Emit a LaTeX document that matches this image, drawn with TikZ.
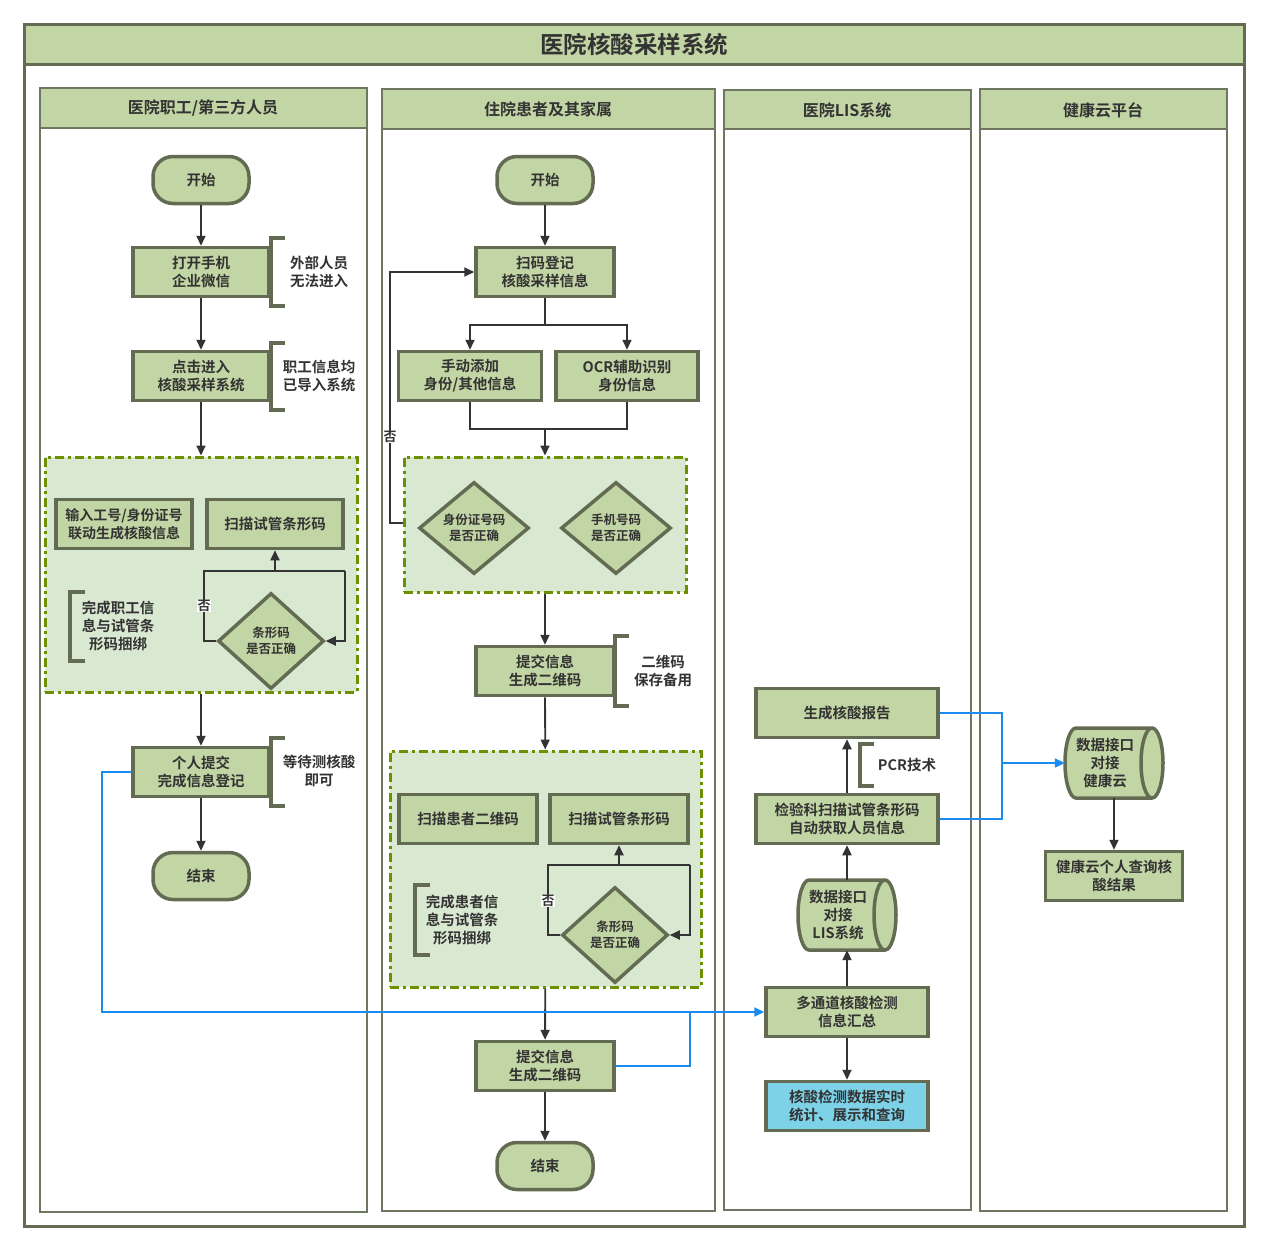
\documentclass[tikz,border=0pt]{standalone}
\usepackage{fontspec}
\setmainfont{Noto Sans CJK SC}[BoldFont={* Bold}]
\usetikzlibrary{shapes.geometric,arrows.meta,calc}
\definecolor{gfill}{HTML}{C2D5A4}
\definecolor{gline}{HTML}{636C52}
\definecolor{dfill}{HTML}{D9E8D1}
\definecolor{dline}{HTML}{6E9000}
\definecolor{txt}{HTML}{333333}
\definecolor{blu}{HTML}{1A8CF0}
\definecolor{cyanbox}{HTML}{7DD2E8}
\definecolor{laneline}{HTML}{6E7760}
\newcommand\drawcyl[4]{%
  \node[cylbox] (#1) at (#2,#3) {};
  \path[draw=gline, line width=3.5pt, fill=gfill]
    ($(#1.center)+(38,-35)$) -- ($(#1.center)+(-38,-35)$)
    arc[start angle=270, end angle=90, x radius=11, y radius=35]
    -- ($(#1.center)+(38,35)$)
    arc[start angle=90, end angle=-270, x radius=11, y radius=35];
  \node[cyltext] (#1t) at ($(#1.center)+(-9,0)$) {#4};}
\begin{document}
\begin{tikzpicture}[x=1pt,y=-1pt,
  pbox/.style={draw=gline, line width=3.5pt, fill=gfill, minimum width=#1, minimum height=49,
    inner sep=2pt, align=center, font=\bfseries\fontsize{14.5}{18}\selectfont, text=txt},
  pbox/.default=136,
  term/.style={draw=gline, line width=3.5pt, fill=gfill, minimum width=96, minimum height=47,
    rounded corners=20pt, align=center, font=\bfseries\fontsize{14.5}{18}\selectfont, text=txt},
  dec/.style={diamond, draw=gline, line width=3.5pt, fill=gfill, minimum width=106, minimum height=96,
    inner sep=0pt, align=center, font=\bfseries\fontsize{12.5}{16}\selectfont, text=txt},
  cylbox/.style={minimum width=98, minimum height=70, inner sep=0pt},
  cyltext/.style={inner sep=0pt, align=center, font=\bfseries\fontsize{14.5}{18}\selectfont, text=txt},
  dbox/.style={draw=dline, line width=3pt, dash pattern=on 9pt off 4pt on 3pt off 4pt, fill=dfill},
  note/.style={align=center, font=\bfseries\fontsize{14.5}{18}\selectfont, text=txt},
  nolab/.style={fill=white, inner sep=0.5pt, font=\bfseries\fontsize{13}{14}\selectfont, text=txt},
  hdr/.style={font=\bfseries\fontsize{16}{18}\selectfont, text=txt},
  conn/.style={draw=txt, line width=1.8pt, -{Triangle[length=10pt,width=9pt]}},
  plain/.style={draw=txt, line width=1.8pt},
  blueln/.style={draw=blu, line width=2pt},
  bluearr/.style={draw=blu, line width=2pt, -{Triangle[length=10pt,width=9pt]}},
  brk/.style={draw=gline, line width=3.5pt},
  lane/.style={draw=laneline, line width=2pt, fill=white},
  lanehead/.style={draw=laneline, line width=2pt, fill=gfill}
]
\useasboundingbox (0,0) rectangle (1269,1251);
% outer frame
\draw[draw=gline, line width=3pt, fill=white] (24,24) rectangle (1244,1226);
\draw[draw=gline, line width=3pt, fill=gfill] (24,24) rectangle (1244,64);
% lanes
\draw[lane] (40,88) rectangle (367,1212);
\draw[lanehead] (40,88) rectangle (367,128);
\draw[lane] (382,89) rectangle (715,1211);
\draw[lanehead] (382,89) rectangle (715,129);
\draw[lane] (724,90) rectangle (971,1210);
\draw[lanehead] (724,90) rectangle (971,129);
\draw[lane] (980,89) rectangle (1227,1211);
\draw[lanehead] (980,89) rectangle (1227,129);
\node[font=\bfseries\fontsize{23.5}{26}\selectfont, text=txt] (h0) at (634,45) {医院核酸采样系统};
\node[hdr] (h1) at (203,108) {医院职工/第三方人员};
\node[hdr] (h2) at (548,109) {住院患者及其家属};
\node[hdr] (h3) at (847,110) {医院LIS系统};
\node[hdr] (h4) at (1103,110) {健康云平台};

% dashed groups
\node[dbox, minimum width=312, minimum height=235] (g1) at (201,574.5) {};
\node[dbox, minimum width=282, minimum height=135] (g2) at (545,524.5) {};
\node[dbox, minimum width=311, minimum height=236] (g3) at (545.5,869) {};

% lane 1
\node[term] (s1) at (201,180) {开始};
\node[pbox] (a1) at (201,272) {打开手机\\企业微信};
\node[pbox] (a2) at (201,376) {点击进入\\核酸采样系统};
\node[pbox=136, font=\bfseries\fontsize{14}{17.5}\selectfont] (a3) at (124,524) {输入工号/身份证号\\联动生成核酸信息};
\node[pbox] (a4) at (275,524) {扫描试管条形码};
\node[dec] (d1) at (271,641) {条形码\\是否正确};
\node[note] (t1) at (118,626) {完成职工信\\息与试管条\\形码捆绑};
\node[pbox] (a5) at (201,772) {个人提交\\完成信息登记};
\node[term] (e1) at (201,876) {结束};
\node[note] (n1) at (319,272) {外部人员\\无法进入};
\node[note] (n2) at (319,376) {职工信息均\\已导入系统};
\node[note] (n3) at (319,771) {等待测核酸\\即可};
\draw[brk] (285,238) -- (271,238) -- (271,306) -- (285,306);
\draw[brk] (285,343) -- (271,343) -- (271,410) -- (285,410);
\draw[brk] (285,738) -- (271,738) -- (271,806) -- (285,806);
\draw[brk] (85,592) -- (70,592) -- (70,661) -- (85,661);

\draw[conn] (s1) -- (a1);
\draw[conn] (a1) -- (a2);
\draw[conn] (a2) -- (g1);
\draw[conn] (g1) -- (a5);
\draw[conn] (a5) -- (e1);
\coordinate (L1) at (204,571);
\coordinate (R1) at (345,571);
\draw[plain] (d1.west) -| (L1) -- (R1);
\draw[conn] (R1) |- (d1.east);
\draw[conn] (a4.south |- L1) -- (a4.south);
\node[nolab] (no1) at (204,606) {否};

% lane 2
\node[term] (s2) at (545,180) {开始};
\node[pbox=138] (b1) at (545,272) {扫码登记\\核酸采样信息};
\node[pbox=143] (b2) at (470,376) {手动添加\\身份/其他信息};
\node[pbox=142] (b3) at (627,376) {OCR辅助识别\\身份信息};
\node[dec, minimum width=110, minimum height=92] (d2) at (474,528) {身份证号码\\是否正确};
\node[dec, minimum width=110, minimum height=92] (d3) at (616,528) {手机号码\\是否正确};
\node[pbox=138] (b4) at (545,671) {提交信息\\生成二维码};
\node[note] (n4) at (663,671) {二维码\\保存备用};
\draw[brk] (629,636) -- (615,636) -- (615,706) -- (629,706);
\node[pbox=138] (b5) at (468,819) {扫描患者二维码};
\node[pbox=138] (b6) at (619,819) {扫描试管条形码};
\node[dec] (d4) at (615,935) {条形码\\是否正确};
\node[note] (t2) at (462,920) {完成患者信\\息与试管条\\形码捆绑};
\draw[brk] (430,885) -- (415,885) -- (415,955) -- (430,955);
\node[pbox=138] (b7) at (545,1066) {提交信息\\生成二维码};
\node[term] (e2) at (545,1166) {结束};

\draw[conn] (s2) -- (b1);
\coordinate (sp) at (545,325);
\draw[plain] (b1) -- (sp);
\draw[conn] (sp) -| (b2);
\draw[conn] (sp) -| (b3);
\coordinate (mg) at (545,429);
\draw[plain] (b2) |- (mg);
\draw[plain] (b3) |- (mg);
\draw[conn] (mg) -- (g2.north);
\coordinate (nl) at (390,523);
\draw[conn] (g2.west |- nl) -- (nl) |- (b1.west);
\node[nolab] (no2) at (390,437) {否};
\draw[conn] (g2) -- (b4);
\draw[conn] (b4) -- (g3);
\draw[conn] (g3) -- (b7);
\draw[conn] (b7) -- (e2);
\coordinate (L2) at (548,865);
\coordinate (R2) at (690,865);
\draw[plain] (d4.west) -| (L2) -- (R2);
\draw[conn] (R2) |- (d4.east);
\draw[conn] (b6.south |- L2) -- (b6.south);
\node[nolab] (no3) at (548,901) {否};

% lane 3
\node[pbox=182] (c1) at (847,713) {生成核酸报告};
\node[pbox=182] (c2) at (847,819) {检验科扫描试管条形码\\自动获取人员信息};
\drawcyl{c3}{847}{915}{数据接口\\对接\\LIS系统}
\node[pbox=162] (c4) at (847,1012) {多通道核酸检测\\信息汇总};
\node[pbox=162, fill=cyanbox] (c5) at (847,1106) {核酸检测数据实时\\统计、展示和查询};
\node[note] (n5) at (907,765) {PCR技术};
\draw[brk] (874,744) -- (860,744) -- (860,786) -- (874,786);
\draw[conn] (c2) -- (c1);
\draw[conn] (c3) -- (c2);
\draw[conn] (c4) -- (c3);
\draw[conn] (c4) -- (c5);

% lane 4
\drawcyl{f1}{1114}{763}{数据接口\\对接\\健康云}
\node[pbox=137] (f2) at (1114,876) {健康云个人查询核\\酸结果};
\draw[conn] (f1) -- (f2);

% blue links
\coordinate (bj) at (1002,763);
\draw[blueln] (c1.east) -| (bj) |- (c2.east);
\draw[bluearr] (bj) -- (f1.west);
\coordinate (bl) at (102,772);
\draw[bluearr] (a5.west) -- (bl) |- (c4.west);
\coordinate (bm) at (690,1012);
\draw[blueln] (b7.east) -| (bm);
\end{tikzpicture}
\end{document}
